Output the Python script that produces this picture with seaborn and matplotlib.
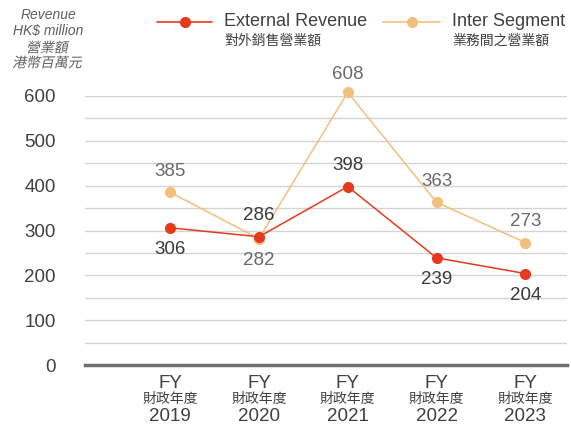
import pandas as pd
import matplotlib.pyplot as plt
import seaborn as sns
from matplotlib.textpath import TextPath
from matplotlib.patches import PathPatch
from matplotlib.font_manager import FontProperties
from matplotlib.transforms import Affine2D

years = ['2019', '2020', '2021', '2022', '2023']
external = [306, 286, 398, 239, 204]
inter = [385, 282, 608, 363, 273]
ext_pos = ['below', 'above', 'above', 'below', 'below']
int_pos = ['above', 'below', 'above', 'above', 'above']

sns.set_style("white")
plt.rcParams['font.family'] = ['Liberation Sans', 'Noto Sans CJK TC', 'DejaVu Sans']

red = '#E63A1E'
gold = '#F2C07A'

df = pd.DataFrame({
    'x': list(range(len(years))) * 2,
    'value': external + inter,
    'series': ['External'] * len(years) + ['Inter'] * len(years),
})

fig = plt.figure(figsize=(5.71, 4.25), dpi=100)
ax = fig.add_axes([85 / 571, 60 / 425, 482 / 571, 269 / 425])

sns.lineplot(data=df, x='x', y='value', hue='series', palette={'External': red, 'Inter': gold},
             hue_order=['Inter', 'External'], marker='o', markersize=8, markeredgewidth=0,
             linewidth=1.1, legend=False, ax=ax, clip_on=False)

ax.set_xlim(-0.96, 4.47)
ax.set_ylim(0, 600)
ax.set_yticks(range(0, 601, 100))
ax.set_yticks(range(50, 600, 100), minor=True)
ax.grid(axis='y', which='both', color='#d4d4d4', linewidth=1)
ax.set_axisbelow(True)
for s in ['top', 'right', 'left']:
    ax.spines[s].set_visible(False)
ax.spines['bottom'].set_color('#6e6e6e')
ax.spines['bottom'].set_linewidth(2.5)
ax.tick_params(axis='y', length=0, pad=21, labelsize=13.5, labelcolor='#404040')
ax.tick_params(axis='y', which='minor', length=0)
ax.set_xticks(range(len(years)))
ax.set_xticklabels([])
ax.tick_params(axis='x', length=0)
ax.set_xlabel('')
ax.set_ylabel('')

# data labels
for i, (v, p) in enumerate(zip(external, ext_pos)):
    ax.annotate(str(v), (i, v), xytext=(0, 15 if p == 'above' else -15.5), textcoords='offset points',
                ha='center', va='center', fontsize=13.5, color='#3a3a3a', annotation_clip=False)
for i, (v, p) in enumerate(zip(inter, int_pos)):
    off = 13 if v > 600 else 15
    ax.annotate(str(v), (i, v), xytext=(0, off if p == 'above' else -15.5), textcoords='offset points',
                ha='center', va='center', fontsize=13.5, color='#6a6a6a', annotation_clip=False)

# x labels
tr = ax.get_xaxis_transform()
for i, y in enumerate(years):
    ax.text(i, -0.068, 'FY', transform=tr, ha='center', va='center', fontsize=13.5, color='#404040')
    ax.text(i, -0.128, '財政年度', transform=tr, ha='center', va='center', fontsize=10, color='#404040')
    ax.text(i, -0.19, y, transform=tr, ha='center', va='center', fontsize=13.5, color='#404040')

# y axis title (CJK drawn as sheared paths to look italic)
for txt, yy in [('Revenue', 15), ('HK$ million', 31)]:
    fig.text(48 / 571, 1 - yy / 425, txt, ha='center', va='center', fontsize=10,
             style='italic', color='#606060')
cjk = FontProperties(family='Noto Sans CJK TC')
for txt, yy in [('營業額', 47), ('港幣百萬元', 62)]:
    tp = TextPath((0, 0), txt, size=13.9, prop=cjk)
    ext = tp.get_extents()
    cx = (ext.x0 + ext.x1) / 2
    cy = (ext.y0 + ext.y1) / 2
    t = Affine2D().translate(-cx, -cy).skew_deg(12, 0).translate(48, 425 - yy)
    fig.add_artist(PathPatch(tp, transform=t, facecolor='#606060', edgecolor='none'))

# legend
for x0, x1, c, en, zh in [(157, 212, red, 'External Revenue', '對外銷售營業額'),
                          (383, 440, gold, 'Inter Segment', '業務間之營業額')]:
    yl = 1 - 22 / 425
    fig.add_artist(plt.Line2D([x0 / 571, x1 / 571], [yl, yl], color=c, linewidth=1.2))
    fig.add_artist(plt.Line2D([(x0 + x1) / 2 / 571], [yl], color=c, marker='o', markersize=8,
                              markeredgewidth=0))
    fig.text((x1 + 12) / 571, yl, en, ha='left', va='center', fontsize=13, color='#404040')
    fig.text((x1 + 12) / 571, 1 - 41 / 425, zh, ha='left', va='center', fontsize=10, color='#404040')

plt.savefig('out.png', dpi=100)
